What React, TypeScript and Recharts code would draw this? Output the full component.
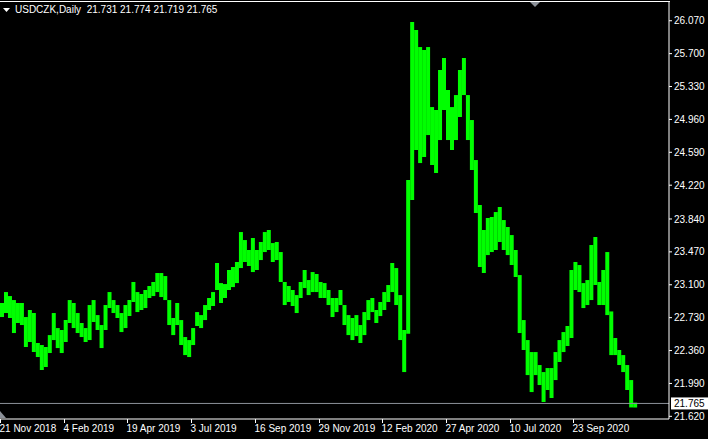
import { ComposedChart, Bar, XAxis, YAxis, ReferenceLine } from "recharts";

// USDCZK daily, one entry per ~4 trading days (high / low)
const HIGHS = [
  22.895, 23.018, 22.973, 22.928, 22.895, 22.895, 22.737, 22.816, 22.782, 22.445,
  22.422, 22.4, 22.534, 22.782, 22.613, 22.591, 22.703, 22.928, 22.895, 22.782,
  22.67, 22.613, 22.872, 22.928, 22.759, 22.647, 22.872, 23.018, 22.928, 22.872,
  22.782, 22.872, 22.928, 23.131, 23.018, 22.996, 23.041, 23.086, 23.131, 23.232,
  23.232, 23.198, 22.928, 22.726, 22.895, 22.703, 22.512, 22.478, 22.613, 22.793,
  22.759, 22.872, 22.951, 23.018, 23.345, 23.119, 23.108, 23.266, 23.3, 23.356,
  23.693, 23.603, 23.491, 23.626, 23.491, 23.581, 23.693, 23.716, 23.569, 23.581,
  23.468, 23.131, 23.086, 23.041, 22.984, 23.131, 23.266, 23.153, 23.243, 23.221,
  23.131, 23.119, 23.041, 22.951, 22.951, 23.041, 22.872, 22.759, 22.726, 22.759,
  22.647, 22.793, 22.928, 22.951, 22.816, 22.906, 23.018, 23.097, 23.345, 23.288,
  22.984, 22.591, 24.278, 26.056, 25.966, 25.774, 25.741, 25.774, 25.099, 25.066,
  25.516, 25.651, 25.291, 25.099, 25.234, 25.516, 25.651, 25.234, 24.953, 24.503,
  23.997, 23.716, 23.851, 23.862, 23.918, 23.975, 23.828, 23.75, 23.659, 23.491,
  23.209, 22.703, 22.478, 22.343, 22.343, 22.197, 22.118, 22.163, 22.163, 22.343,
  22.478, 22.568, 22.636, 23.266, 23.356, 23.322, 23.119, 23.153, 23.547, 23.637,
  23.131, 23.266, 23.468, 22.8, 22.501, 22.366, 22.309, 22.197, 22.028, 21.774,
];

const LOWS = [
  22.737, 22.782, 22.726, 22.557, 22.67, 22.647, 22.4, 22.456, 22.343, 22.287,
  22.141, 22.175, 22.332, 22.478, 22.388, 22.332, 22.456, 22.67, 22.613, 22.557,
  22.512, 22.456, 22.478, 22.681, 22.591, 22.388, 22.591, 22.838, 22.782, 22.726,
  22.568, 22.613, 22.748, 22.906, 22.793, 22.816, 22.838, 22.951, 22.973, 23.018,
  22.962, 22.928, 22.647, 22.534, 22.647, 22.422, 22.309, 22.287, 22.422, 22.636,
  22.613, 22.703, 22.816, 22.861, 23.041, 22.895, 22.951, 23.041, 23.074, 23.119,
  23.288, 23.356, 23.311, 23.243, 23.266, 23.378, 23.468, 23.491, 23.356, 23.378,
  23.131, 22.872, 22.906, 22.861, 22.782, 22.951, 23.063, 22.984, 23.018, 23.018,
  22.951, 22.951, 22.872, 22.737, 22.793, 22.872, 22.647, 22.534, 22.478, 22.523,
  22.445, 22.534, 22.703, 22.793, 22.67, 22.748, 22.816, 22.906, 23.018, 22.872,
  22.478, 22.118, 22.55, 24.053, 24.616, 24.469, 24.537, 24.784, 24.447, 24.357,
  24.728, 25.066, 24.728, 24.616, 24.728, 24.987, 25.234, 24.728, 24.391, 23.907,
  23.3, 23.232, 23.434, 23.468, 23.491, 23.581, 23.491, 23.434, 23.322, 23.187,
  22.557, 22.366, 22.084, 21.893, 22.084, 21.972, 21.781, 21.916, 21.826, 22.028,
  22.231, 22.343, 22.411, 22.501, 23.041, 23.018, 22.838, 22.872, 22.928, 23.097,
  22.872, 22.872, 22.759, 22.309, 22.309, 22.197, 22.118, 21.916, 21.72, 21.719,
];

const EMPTY_SLOTS = 8; // chart shift on the right
const DATE_LABELS = [
  "21 Nov 2018", "4 Feb 2019", "19 Apr 2019", "3 Jul 2019", "16 Sep 2019",
  "29 Nov 2019", "12 Feb 2020", "27 Apr 2020", "10 Jul 2020", "23 Sep 2020",
];
const DATE_STEP = 16;
const PRICE_TICKS = [26.07, 25.7, 25.33, 24.96, 24.59, 24.22, 23.84, 23.47, 23.1, 22.73, 22.36, 21.99, 21.62];
const LAST_PRICE = 21.765;
const HEADER = "21.731 21.774 21.719 21.765";

const FONT = "'Liberation Sans', Arial, sans-serif";
const GREEN = "#00ff00";

const data = [
  ...HIGHS.map((h, i) => ({ i, range: [LOWS[i], h] })),
  ...Array.from({ length: EMPTY_SLOTS }, (_, k) => ({ i: HIGHS.length + k, range: null })),
];

const DateTick = ({ x, y, payload }: any) => {
  const label = DATE_LABELS[payload.value / DATE_STEP];
  if (!label) return null;
  const lx = Math.round(x - 2) + 0.5;
  return (
    <g>
      <line x1={lx} x2={lx} y1={y - 4} y2={y} stroke="#fff" />
      <text x={lx - 1} y={y + 9} fill="#fff" fontSize={10} fontFamily={FONT}>
        {label}
      </text>
    </g>
  );
};

const PriceLabel = ({ viewBox }: any) => {
  const x = viewBox.x + viewBox.width + 2;
  const y = viewBox.y;
  return (
    <g>
      <rect x={x} y={y - 6} width={37} height={12} fill="#fff" />
      <text x={x + 3} y={y + 4} fill="#000" fontSize={10} fontFamily={FONT}>
        {LAST_PRICE.toFixed(3)}
      </text>
    </g>
  );
};

export default function App() {
  return (
    <div style={{ position: "absolute", left: 0, top: 0, width: 708, height: 439, background: "#000", overflow: "hidden" }}>
      <ComposedChart
        width={708}
        height={439}
        data={data}
        margin={{ top: 1, right: 0, bottom: 0, left: 0 }}
        barCategoryGap={0}
        barGap={0}
      >
        <XAxis
          dataKey="i"
          type="category"
          interval={DATE_STEP - 1}
          height={20}
          tickLine={false}
          tickSize={4}
          tickMargin={0}
          axisLine={{ stroke: "#fff" }}
          tick={<DateTick />}
        />
        <YAxis
          orientation="right"
          width={39}
          domain={[21.59, 26.292]}
          allowDataOverflow
          ticks={PRICE_TICKS}
          tickFormatter={(v: number) => v.toFixed(3)}
          tick={{ fill: "#fff", fontSize: 10, fontFamily: FONT }}
          tickSize={3}
          tickMargin={2}
          tickLine={{ stroke: "#fff" }}
          axisLine={{ stroke: "#fff" }}
        />
        <ReferenceLine y={LAST_PRICE} stroke="#8c9199" label={<PriceLabel />} />
        <Bar dataKey="range" fill={GREEN} isAnimationActive={false} />
      </ComposedChart>

      {/* frame top line, header and chart markers */}
      <div style={{ position: "absolute", left: 0, top: 1, width: 670, height: 1, background: "#fff" }} />
      <svg style={{ position: "absolute", left: 0, top: 0 }} width={708} height={439} pointerEvents="none">
        <polygon points="3,8 10,8 6.5,12" fill="#fff" />
        <polygon points="530,2 540,2 535,7" fill="#8c9199" />
        <polygon points="0,411 6,418 0,418" fill="#8c9199" />
      </svg>
      <div
        style={{
          position: "absolute",
          left: 15,
          top: 4,
          color: "#fff",
          fontSize: 10,
          fontFamily: FONT,
          whiteSpace: "pre",
          lineHeight: "12px",
        }}
      >
        {"USDCZK,Daily  " + HEADER}
      </div>
    </div>
  );
}
